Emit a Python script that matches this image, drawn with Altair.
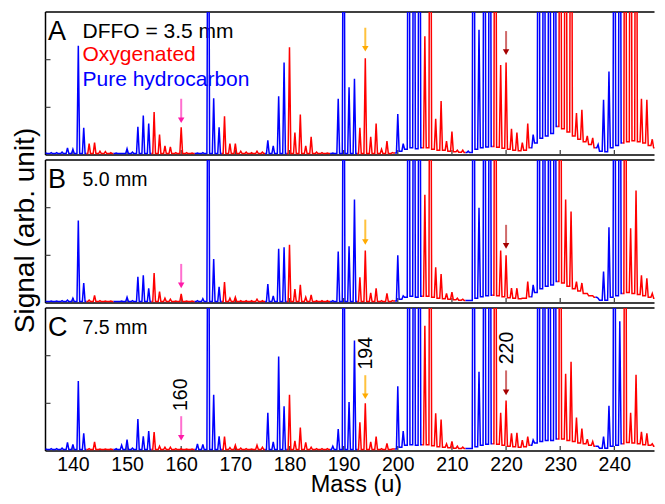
import altair as alt
import pandas as pd

# ---------------- data ----------------
MASSES = list(range(135, 250))                      # integer masses 135..249
SERIES = ["Oxygenated", "Pure hydrocarbon"]
SERIES_COLORS = ["#ff0000", "#0000ff"]
# mass ranges drawn as pure hydrocarbon (blue); everything else is oxygenated (red)
BLUE_RANGES = [(135, 142), (148, 154), (163, 167), (176, 179), (188, 192),
               (200, 204), (213, 217), (225, 229), (237, 241)]
OFF = 12.0   # peaks that run off the top of the panel

# peak heights per integer mass (135..249), panel A (DFFO = 3.5 mm)
PEAKS_A = [
    0.04, 0.05, 0.05, 0.06, 0.15, 0.12, 2.29, 0.57, 0.24, 0.26,   # 135-144
    0.08, 0.07, 0.05, 0.04, 0.03, 0.13, 0.06, 0.59, 0.83, 0.66,   # 145-154
    0.90, 0.43, 0.19, 0.17, 0.05, 0.58, 0.05, 0.04, 0.04, 0.05,   # 155-164
    9.0, 1.19, 0.58, 0.81, 0.24, 0.24, 0.08, 0.06, 0.05, 0.08,    # 165-174
    0.06, 0.31, 0.19, 1.23, 1.94, 2.26, 0.47, 0.85, 0.19, 0.38,   # 175-184
    0.06, 0.05, 0.04, 0.04, 1.18, 9.0, 1.42, 1.60, 0.57, 2.03,    # 185-194
    0.38, 0.66, 0.12, 0.29, 0.05, 0.86, 0.24, OFF, OFF, OFF,      # 195-204
    2.49, OFF, 0.76, 1.13, 0.29, 0.49, 0.10, 0.10, 0.08, OFF,     # 205-214
    2.63, OFF, OFF, OFF, 1.89, 1.94, 0.55, 0.47, 0.26, 0.66,      # 215-224
    0.43, OFF, OFF, OFF, OFF, OFF, OFF, OFF, 0.88, 0.95,          # 225-234
    0.40, 0.36, 0.22, 1.16, 1.75, OFF, OFF, OFF, OFF, OFF,        # 235-244
    1.18, 1.16, 0.33, 0.40, 0.20,                                 # 245-249
]
# baseline level right after each mass, panel A
FLOORS_A = [0.03] * 60 + [
    0.03, 0.03, 0.03, 0.03, 0.04, 0.08, 0.12, 0.15, 0.13, 0.15,   # 195-204
    0.15, 0.12, 0.10, 0.10, 0.08, 0.07, 0.06, 0.05, 0.05, 0.12,   # 205-214
    0.15, 0.17, 0.18, 0.16, 0.14, 0.12, 0.10, 0.09, 0.10, 0.15,   # 215-224
    0.25, 0.35, 0.40, 0.45, 0.60, 0.55, 0.48, 0.40, 0.33, 0.28,   # 225-234
    0.22, 0.15, 0.08, 0.07, 0.15, 0.20, 0.25, 0.28, 0.30, 0.28,   # 235-244
    0.25, 0.20, 0.15, 0.12, 0.10,                                 # 245-249
]

# panel B (5.0 mm)
PEAKS_B = [
    0.03, 0.04, 0.04, 0.05, 0.06, 0.10, 1.73, 0.42, 0.06, 0.16,   # 135-144
    0.05, 0.04, 0.04, 0.03, 0.04, 0.12, 0.05, 0.55, 0.58, 0.31,   # 145-154
    0.63, 0.24, 0.10, 0.08, 0.04, 0.19, 0.04, 0.04, 0.05, 0.09,   # 155-164
    9.0, 0.92, 0.34, 0.44, 0.10, 0.12, 0.05, 0.05, 0.05, 0.08,    # 165-174
    0.05, 0.40, 0.15, 1.14, 1.17, 1.22, 0.29, 0.38, 0.12, 0.17,   # 175-184
    0.05, 0.05, 0.05, 0.05, 1.08, 9.0, 1.19, 2.17, 0.54, 1.10,    # 185-194
    0.21, 0.31, 0.05, 0.20, 0.05, 1.00, 0.15, OFF, OFF, OFF,      # 195-204
    2.27, OFF, 0.75, 0.61, 0.20, 0.23, 0.10, 0.08, 0.05, OFF,     # 205-214
    2.00, OFF, OFF, OFF, 1.10, 1.00, 0.31, 0.31, 0.10, 0.45,      # 215-224
    0.38, OFF, OFF, OFF, OFF, OFF, 2.17, 1.92, 0.45, 0.42,        # 225-234
    0.20, 0.15, 0.10, 0.66, 1.59, OFF, OFF, OFF, 1.57, 2.36,      # 235-244
    0.58, 0.52, 0.20, 0.15, 0.12,                                 # 245-249
]
FLOORS_B = [0.03] * 60 + [
    0.03, 0.03, 0.03, 0.03, 0.04, 0.08, 0.12, 0.14, 0.12, 0.14,   # 195-204
    0.14, 0.12, 0.10, 0.09, 0.08, 0.07, 0.06, 0.05, 0.05, 0.10,   # 205-214
    0.13, 0.15, 0.16, 0.15, 0.13, 0.11, 0.10, 0.09, 0.10, 0.13,   # 215-224
    0.22, 0.30, 0.35, 0.38, 0.45, 0.42, 0.35, 0.30, 0.25, 0.20,   # 225-234
    0.15, 0.12, 0.06, 0.06, 0.12, 0.15, 0.20, 0.22, 0.20, 0.18,   # 235-244
    0.15, 0.12, 0.10, 0.10, 0.08,                                 # 245-249
]

# panel C (7.5 mm)
PEAKS_C = [
    0.04, 0.05, 0.05, 0.06, 0.18, 0.14, 1.47, 0.37, 0.05, 0.19,   # 135-144
    0.04, 0.04, 0.04, 0.05, 0.12, 0.24, 0.06, 0.67, 0.31, 0.42,   # 145-154
    0.40, 0.10, 0.08, 0.08, 0.05, 0.05, 0.04, 0.04, 0.15, 0.14,   # 155-164
    9.0, 1.18, 0.31, 0.30, 0.07, 0.12, 0.06, 0.05, 0.04, 0.12,    # 165-174
    0.08, 0.80, 0.19, 1.98, 0.94, 1.18, 0.21, 0.49, 0.18, 0.08,   # 175-184
    0.05, 0.05, 0.05, 0.10, 0.46, 9.0, 1.03, 2.32, 0.60, 1.00,    # 185-194
    0.19, 0.30, 0.05, 0.16, 0.04, 1.36, 0.42, OFF, OFF, OFF,      # 195-204
    2.63, OFF, 0.79, 0.66, 0.15, 0.20, 0.10, 0.08, 0.05, OFF,     # 205-214
    1.66, OFF, OFF, OFF, 0.80, 1.06, 0.37, 0.38, 0.23, 0.30,      # 215-224
    0.23, OFF, OFF, OFF, OFF, OFF, 1.62, 1.87, 0.70, 0.47,        # 225-234
    0.25, 0.20, 0.10, 0.30, 0.95, OFF, 2.72, OFF, 0.80, 1.60,     # 235-244
    0.40, 0.37, 0.15, 0.15, 0.10,                                 # 245-249
]
FLOORS_C = [0.03] * 60 + [
    0.03, 0.03, 0.03, 0.03, 0.04, 0.08, 0.12, 0.13, 0.12, 0.13,   # 195-204
    0.13, 0.11, 0.09, 0.08, 0.07, 0.06, 0.05, 0.05, 0.05, 0.09,   # 205-214
    0.12, 0.14, 0.15, 0.14, 0.12, 0.10, 0.09, 0.08, 0.09, 0.12,   # 215-224
    0.17, 0.20, 0.22, 0.22, 0.25, 0.25, 0.22, 0.20, 0.17, 0.15,   # 225-234
    0.12, 0.10, 0.06, 0.06, 0.10, 0.12, 0.15, 0.18, 0.17, 0.15,   # 235-244
    0.13, 0.12, 0.10, 0.08, 0.08,                                 # 245-249
]

PANELS = ["A", "B", "C"]
PANEL_TEXT = ["DFFO = 3.5 mm", "5.0 mm", "7.5 mm"]
LEGEND_TEXT = ["Oxygenated", "Pure hydrocarbon"]

ARROW_MASS = [160, 194, 220]
ARROW_SHAFT = ["#ff6fcf", "#ffc23d", "#cf6a6a"]
ARROW_HEAD = ["#ff1aa8", "#ffaa00", "#a50000"]
ARROW_TAIL_A = [1.18, 2.67, 2.60]
ARROW_TIP_A = [0.67, 2.17, 2.10]
ARROW_TAIL_B = [0.82, 1.75, 1.64]
ARROW_TIP_B = [0.31, 1.22, 1.14]
ARROW_TAIL_C = [0.73, 1.59, 1.69]
ARROW_TIP_C = [0.22, 1.09, 1.17]

PEAK_LABELS = ["160", "194", "220"]
PEAK_LABEL_X = [160.0, 194.2, 220.1]
PEAK_LABEL_Y = [1.18, 2.05, 2.16]

X_TICKS = [140, 150, 160, 170, 180, 190, 200, 210, 220, 230, 240]
Y_TICKS = [1, 2]
X_DOMAIN = [134.94, 247.41]
Y_DOMAIN = [0, 3]

# ---------------- chart ----------------
FONT = "Liberation Sans"
W, H = 609, 143
HALF = 0.25   # half width of a peak (mass units)


def series_of(m):
    for a, b in BLUE_RANGES:
        if a <= m <= b:
            return SERIES[1]
    return SERIES[0]


def line_frame(panel, peaks, floors):
    rows = []
    seg = 0
    order = 0
    prev = None
    for i, m in enumerate(MASSES):
        s = series_of(m)
        left = floors[i - 1] if i > 0 else floors[0]
        if prev is not None and s != prev:
            rows.append(dict(seg=f"{panel}{seg}", order=order, mass=m - 0.5, signal=left, series=prev))
            order += 1
            seg += 1
            rows.append(dict(seg=f"{panel}{seg}", order=order, mass=m - 0.5, signal=left, series=s))
            order += 1
        prev = s
        for xv, yv in ((m - HALF, left), (m, peaks[i]), (m + HALF, floors[i])):
            rows.append(dict(seg=f"{panel}{seg}", order=order, mass=xv, signal=yv, series=s))
            order += 1
    return pd.DataFrame(rows)


xs = alt.Scale(domain=X_DOMAIN, nice=False, zero=False)
ys = alt.Scale(domain=Y_DOMAIN, nice=False, zero=False)


def make_panel(idx, peaks, floors, tails, tips):
    name = PANELS[idx]
    bottom = idx == 2
    if bottom:
        xaxis = alt.Axis(values=X_TICKS, title="Mass (u)", labels=True, ticks=False, domain=False,
                         grid=False, labelFont=FONT, labelFontSize=19.5, labelColor="black",
                         labelPadding=4, labelFlush=False, labelOverlap=False,
                         titleFont=FONT, titleFontSize=23.5, titleFontWeight="normal",
                         titleColor="black", titleX=310.5, titleY=40, titleAlign="center",
                         titleBaseline="alphabetic")
    else:
        xaxis = None
    if idx == 1:
        yaxis = alt.Axis(title="Signal (arb. unit)",
                         labels=False, ticks=False, domain=False, grid=False,
                         titleX=-12.5, titleY=70, titleAngle=270, titleAlign="center",
                         titleBaseline="alphabetic", titleFont=FONT, titleFontSize=28,
                         titleFontWeight="normal", titleColor="black")
    else:
        yaxis = None

    def X(f):
        return alt.X(f, type="quantitative", scale=xs, axis=xaxis)

    def Y(f):
        return alt.Y(f, type="quantitative", scale=ys, axis=yaxis)

    one = pd.DataFrame({"k": [0]})
    layers = []
    frame = dict(color="black", strokeWidth=1.5)
    layers.append(alt.Chart(one).mark_rule(**frame).encode(
        x=alt.value(0), x2=alt.value(W), y=alt.value(0)))
    layers.append(alt.Chart(one).mark_rule(**frame).encode(
        x=alt.value(0), x2=alt.value(W), y=alt.value(H)))
    layers.append(alt.Chart(one).mark_rule(**frame).encode(
        x=alt.value(0), y=alt.value(0), y2=alt.value(H)))
    # inward ticks
    layers.append(alt.Chart(pd.DataFrame({"tick": X_TICKS})).mark_rule(
        color="#444444", strokeWidth=1.3).encode(
        x=X("tick"), y=alt.value(H), y2=alt.value(H - 5)))
    layers.append(alt.Chart(pd.DataFrame({"yt": Y_TICKS})).mark_rule(
        color="#444444", strokeWidth=1.2).encode(
        y=Y("yt"), x=alt.value(0), x2=alt.value(5)))
    # panel letter and distance text
    layers.append(alt.Chart(one).mark_text(
        align="left", baseline="alphabetic", font=FONT, fontSize=27, color="black").encode(
        x=alt.value(2.5), y=alt.value(28), text=alt.value(name)))
    layers.append(alt.Chart(one).mark_text(
        align="left", baseline="alphabetic", font=FONT,
        fontSize=21 if idx == 0 else 19.5, color="black").encode(
        x=alt.value(37), y=alt.value(26), text=alt.value(PANEL_TEXT[idx])))
    if idx == 0:
        layers.append(alt.Chart(one).mark_text(
            align="left", baseline="alphabetic", font=FONT, fontSize=21,
            color=SERIES_COLORS[0]).encode(
            x=alt.value(37), y=alt.value(48.5), text=alt.value(LEGEND_TEXT[0])))
        layers.append(alt.Chart(one).mark_text(
            align="left", baseline="alphabetic", font=FONT, fontSize=21,
            color=SERIES_COLORS[1]).encode(
            x=alt.value(37), y=alt.value(73.5), text=alt.value(LEGEND_TEXT[1])))
    # spectrum
    layers.append(alt.Chart(line_frame(name, peaks, floors)).mark_line(
        clip=True, strokeWidth=1.5).encode(
        x=X("mass"), y=Y("signal"),
        color=alt.Color("series:N", scale=alt.Scale(domain=SERIES, range=SERIES_COLORS), legend=None),
        detail="seg:N", order="order:Q"))
    # arrows
    adf = pd.DataFrame({"mass": ARROW_MASS, "tail": tails, "tip": tips,
                        "shaft": ARROW_SHAFT, "head": ARROW_HEAD})
    layers.append(alt.Chart(adf).mark_rule(strokeWidth=2, y2Offset=-4).encode(
        x=X("mass"), y=Y("tail"), y2=alt.Y2("tip"),
        color=alt.Color("shaft:N", scale=None)))
    layers.append(alt.Chart(adf).mark_point(
        shape="triangle-down", filled=True, size=42, opacity=1, yOffset=-2.8).encode(
        x=X("mass"), y=Y("tip"), color=alt.Color("head:N", scale=None)))
    if bottom:
        ldf = pd.DataFrame({"mass": PEAK_LABEL_X, "y": PEAK_LABEL_Y, "label": PEAK_LABELS})
        layers.append(alt.Chart(ldf).mark_text(
            angle=270, align="center", baseline="middle", font=FONT, fontSize=19.5,
            color="black").encode(x=X("mass"), y=Y("y"), text="label:N"))
    return alt.layer(*layers).properties(width=W, height=H)


pA = make_panel(0, PEAKS_A, FLOORS_A, ARROW_TAIL_A, ARROW_TIP_A)
pB = make_panel(1, PEAKS_B, FLOORS_B, ARROW_TAIL_B, ARROW_TIP_B)
pC = make_panel(2, PEAKS_C, FLOORS_C, ARROW_TAIL_C, ARROW_TIP_C)

chart = alt.vconcat(pA, pB, pC, spacing=5, bounds="flush").properties(
    padding={"left": 2.5, "top": 3, "right": 0, "bottom": 0}
).configure_view(strokeWidth=0)

chart.save("out.html", embed_options={"renderer": "svg", "actions": False})
